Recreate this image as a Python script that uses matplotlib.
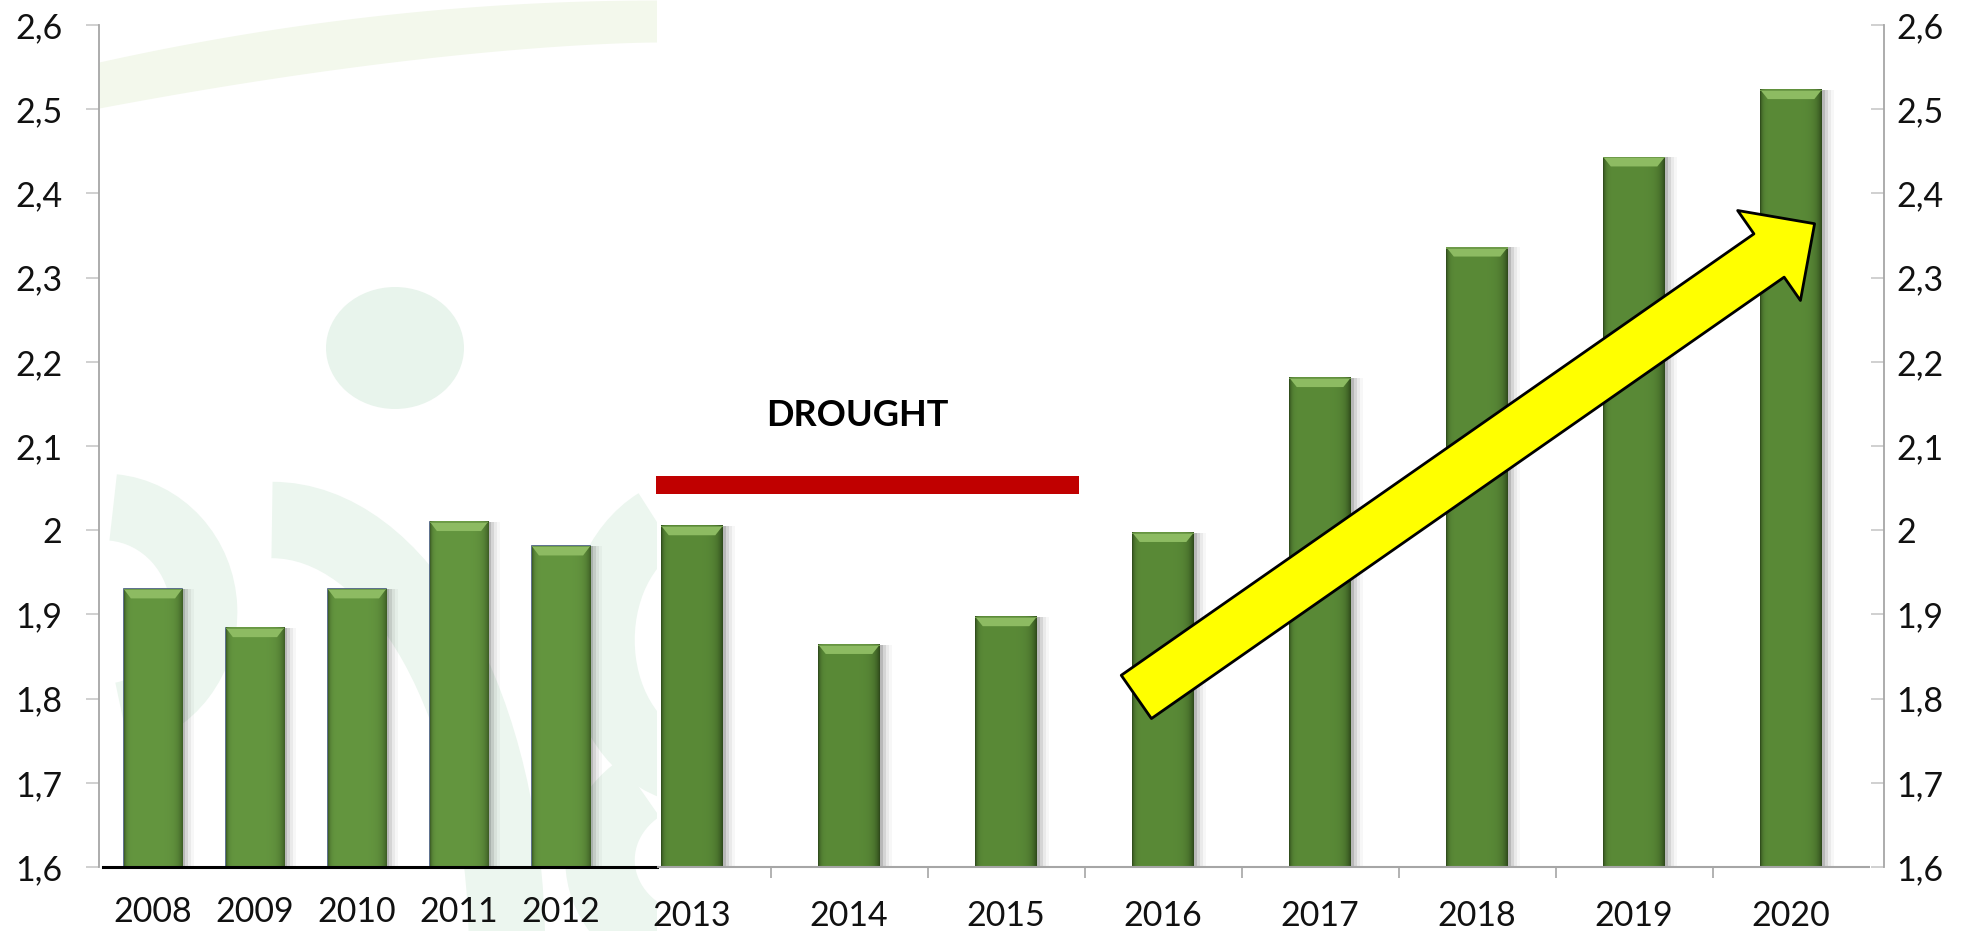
import matplotlib
matplotlib.use("Agg")
import matplotlib.pyplot as plt
import numpy as np
from matplotlib.patches import Rectangle, Polygon, Ellipse, Arc
from matplotlib.ticker import FixedLocator, FuncFormatter

plt.rcParams["font.family"] = ["Lato", "DejaVu Sans"]

# data
years_before = ["2008", "2009", "2010", "2011", "2012"]
values_before = [1.93, 1.884, 1.93, 2.01, 1.981]
years_after = ["2013", "2014", "2015", "2016", "2017", "2018", "2019", "2020"]
values_after = [2.005, 1.864, 1.897, 1.997, 2.181, 2.336, 2.443, 2.523]

y_ticks = [1.6, 1.7, 1.8, 1.9, 2.0, 2.1, 2.2, 2.3, 2.4, 2.5, 2.6]
Y_MIN, Y_MAX = 1.6, 2.6

drought_label = "DROUGHT"
drought_span = (-0.23, 2.465)      # in 2013-based index units
drought_band = (2.043, 2.064)
drought_text_pos = (1.05, 2.136)
trend_tail = (2.83, 1.802)
trend_tip = (7.15, 2.364)

W, H, DPI = 1961, 931, 100


def comma_fmt(v, _pos=None):
    return f"{v:g}".replace(".", ",")


def draw_bevel_bars(ax, xs, vals, width, base, side, face, edge=None):
    # soft drop shadow to the right
    for k, a in enumerate([0.13, 0.09, 0.05, 0.03]):
        ax.bar(xs + width * (0.05 + 0.05 * k), np.array(vals) - base, width, bottom=base,
               color="black", alpha=a, lw=0, zorder=1)
    ax.bar(xs, np.array(vals) - base, width, bottom=base, color=face,
           edgecolor=edge if edge else face, lw=1.2 if edge else 0, zorder=2)
    # dark side shading as a horizontal gradient
    grad = np.linspace(0, 1, 96)
    shade = np.clip(1 - 0.75 * (np.exp(-grad / 0.035) + np.exp(-(1 - grad) / 0.08)), 0, 1)
    rgb = np.array(matplotlib.colors.to_rgb(face))
    dark = np.array(matplotlib.colors.to_rgb(side))
    img = (dark[None, :] + (rgb - dark)[None, :] * shade[:, None])[None, :, :]
    for x, v in zip(xs, vals):
        ax.imshow(img, extent=(x - width / 2, x + width / 2, base, v),
                  aspect="auto", interpolation="bilinear", zorder=3)
        # light bevel on top
        bh = (Y_MAX - Y_MIN) * 0.011
        inset = width * 0.12
        ax.add_patch(Polygon([(x - width / 2, v), (x + width / 2, v),
                              (x + width / 2 - inset, v - bh), (x - width / 2 + inset, v - bh)],
                             closed=True, fc="#8DBB62", ec="none", zorder=4))
        ax.add_patch(Rectangle((x - width / 2, v - 0.0015), width, 0.0015,
                               fc="#6E9B49", ec="none", zorder=4))


fig = plt.figure(figsize=(W / DPI, H / DPI), dpi=DPI)
fig.patch.set_facecolor("white")

# faint watermark behind the left panel (pixel space, y down)
wm = fig.add_axes([0, 0, 1, 1], zorder=-5)
wm.set_xlim(0, W)
wm.set_ylim(H, 0)
wm.axis("off")
xs_band = np.linspace(99, 657, 60)
upper = 62 - 62 * (1 - (1 - (xs_band - 99) / 558) ** 2)
lower = 108 - 66 * (1 - (1 - (xs_band - 99) / 558) ** 1.6)
wm.fill_between(xs_band, upper, lower, color="#F3F8EC", lw=0)
wm.add_patch(Ellipse((395, 348), 138, 122, fc="#E8F4EC", ec="none"))
wm.add_patch(Arc((104, 612), 200, 210, theta1=-85, theta2=80, lw=48, color="#ECF6EF"))
wm.add_patch(Arc((272, 950), 470, 860, theta1=270, theta2=358, lw=55, color="#ECF6EF"))
wm.add_patch(Arc((700, 640), 200, 260, theta1=95, theta2=250, lw=50, color="#ECF6EF"))
wm.add_patch(Arc((700, 860), 200, 180, theta1=100, theta2=230, lw=50, color="#ECF6EF"))
wm.add_patch(Rectangle((657, 0), W - 657, H, fc="white", ec="none"))

y0 = (H - 867) / H
h = (867 - 25) / H

# ---- left panel: 2008-2012 ----
axl = fig.add_axes([99 / W, y0, (657 - 99) / W, h])
axl.set_facecolor("none")
xl = np.arange(len(years_before))
draw_bevel_bars(axl, xl, values_before, 0.57, Y_MIN, "#2F4A1C", "#64963F", edge="#41587A")
axl.set_xlim(-0.529, 4.941)
axl.set_ylim(Y_MIN, Y_MAX)
axl.set_xticks(xl)
axl.set_xticklabels(years_before, fontsize=24.5, color="#111111")
axl.tick_params(axis="x", length=0, pad=21)
axl.yaxis.set_major_locator(FixedLocator(y_ticks))
axl.yaxis.set_major_formatter(FuncFormatter(comma_fmt))
axl.tick_params(axis="y", direction="out", length=9.4, width=1.2, color="#C8C8C8",
                labelsize=24.5, labelcolor="#111111", pad=17)
for s in ["top", "right", "bottom"]:
    axl.spines[s].set_visible(False)
axl.spines["left"].set_color("#A6A6A6")
axl.spines["left"].set_linewidth(1.3)
axl.axhline(Y_MIN, xmin=0.007, xmax=1, color="black", lw=2.2, zorder=6, clip_on=False)

# ---- right panel: 2013-2020 ----
axr = fig.add_axes([657 / W, y0, (1884 - 657) / W, h])
axr.set_facecolor("none")
xr = np.arange(len(years_after))
draw_bevel_bars(axr, xr, values_after, 0.39, Y_MIN, "#1F3311", "#5A8A37")
xlim_r = (-0.223, 7.592)
axr.set_xlim(*xlim_r)
axr.set_ylim(Y_MIN, Y_MAX)
axr.set_xticks(xr)
axr.set_xticklabels(years_after, fontsize=24.5, color="#111111")
axr.set_xticks(xr[:-1] + 0.5, minor=True)
axr.tick_params(axis="x", which="major", length=0, pad=24)
axr.tick_params(axis="x", which="minor", direction="out", length=8, width=1.2, color="#A6A6A6")
axr.yaxis.tick_right()
axr.yaxis.set_major_locator(FixedLocator(y_ticks))
axr.yaxis.set_major_formatter(FuncFormatter(comma_fmt))
axr.tick_params(axis="y", direction="in", length=9.4, width=1.2, color="#C8C8C8",
                labelsize=24.5, labelcolor="#111111", pad=9)
for s in ["top", "left", "bottom"]:
    axr.spines[s].set_visible(False)
axr.spines["right"].set_color("#A6A6A6")
axr.spines["right"].set_linewidth(1.3)
axr.hlines(Y_MIN, xlim_r[0], len(years_after) - 0.5, color="#A6A6A6", lw=1.5,
           zorder=6, clip_on=False)

# drought marker
axr.add_patch(Rectangle((drought_span[0], drought_band[0]), drought_span[1] - drought_span[0],
                        drought_band[1] - drought_band[0], fc="#C00000", ec="none",
                        zorder=7, clip_on=False))
axr.text(*drought_text_pos, drought_label, fontsize=26, fontweight="bold",
         ha="center", va="center", color="black", zorder=7)

# trend arrow
axr.annotate("", xy=trend_tip, xytext=trend_tail,
             arrowprops=dict(arrowstyle="simple,head_length=0.40,head_width=0.79,tail_width=0.38",
                             mutation_scale=100, fc="#FFFF00", ec="black", lw=2,
                             shrinkA=0, shrinkB=0),
             zorder=8)

fig.savefig("out.png", dpi=DPI, facecolor="white")
